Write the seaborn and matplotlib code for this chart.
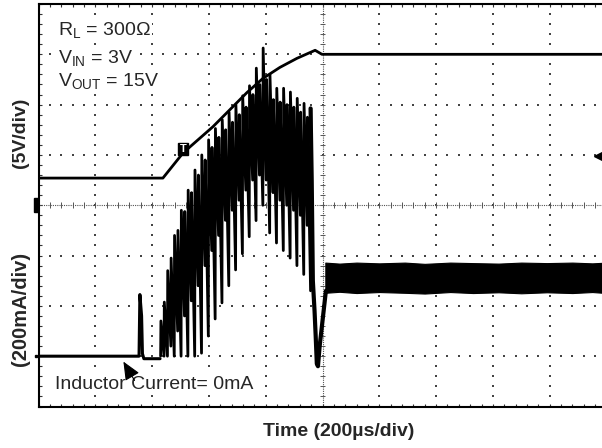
import numpy as np
import seaborn as sns
import matplotlib.pyplot as plt
from matplotlib.patches import Rectangle

# scope settings: 200us/div, ch1 5V/div (ground at centre), ch2 200mA/div (ground 3 div down)
V_PER_DIV = 5.0
MA_PER_DIV = 200.0
I_GROUND_DIV = -3.0

# channel 1 - output voltage (us, V)
volt_t = [0, 438, 509, 614, 674, 734, 790, 850, 910, 974, 998, 2000]
volt_v = [2.7, 2.7, 5.2, 7.8, 9.5, 11.2, 12.6, 13.7, 14.6, 15.4, 15.0, 15.0]

# channel 2 - inductor current before switching starts (us, mA)
pre_t = [0, 354, 357, 363, 366, 371, 428]
pre_i = [0, 0, 245, 160, 10, -10, -10]

# switching burst: one entry per visible spike (us, mA)
spike_t = [430, 442, 454, 466, 478, 490, 502, 514, 526, 538, 550, 562, 574, 586, 598,
           610, 622, 634, 646, 658, 670, 682, 694, 706, 718, 730, 742, 754, 766, 778,
           790, 802, 814, 826, 838, 850, 862, 874, 886, 898, 910, 922, 934, 946, 958]
spike_peak = [140, 215, 340, 390, 480, 500, 580, 575, 660, 650, 740, 720, 800, 780, 860,
              830, 905, 870, 940, 900, 970, 930, 1000, 960, 1035, 990, 1075, 1040, 1145, 1080,
              1225, 1100, 1120, 1020, 1065, 1010, 1065, 1000, 1050, 990, 1025, 970, 1005, 950, 985]
spike_valley = [0, 0, 0, 40, 0, 100, 0, 160, 0, 220, 0, 280, 12, 360, 80,
                420, 148, 480, 212, 540, 280, 580, 343, 620, 407, 660, 475, 700, 539, 720,
                600, 700, 490, 650, 450, 620, 420, 600, 390, 580, 360, 560, 325, 520, 260]

# undershoot after the burst (us, mA)
post_t = [962, 966, 972, 976, 980, 984, 990, 996, 1004, 1012]
post_i = [700, 300, 180, 80, -30, -40, 40, 100, 180, 260]

# steady-state ripple band (us, mA)
band_t = [1010, 1060, 1120, 1200, 1290, 1360, 1450, 1530, 1620, 1700, 1790, 1880, 1950, 2000]
band_top = [372, 368, 372, 369, 372, 367, 372, 370, 368, 372, 370, 372, 369, 372]
band_bot = [252, 256, 251, 255, 252, 249, 255, 251, 254, 250, 254, 251, 255, 251]

sns.set_style("white")
plt.rcParams['font.family'] = ['Liberation Sans', 'DejaVu Sans']
plt.rcParams['mathtext.fontset'] = 'custom'
plt.rcParams['mathtext.rm'] = 'Liberation Sans'

fig = plt.figure(figsize=(6.02, 4.48), dpi=100)
ax = fig.add_axes([38.5 / 602, 1 - 406.5 / 448, 568 / 602, 402.5 / 448])
ax.set_xlim(0, 2000)
ax.set_ylim(-4, 4)


def to_div_i(vals):
    return [v / MA_PER_DIV + I_GROUND_DIV for v in vals]


# graticule
dot_kw = dict(s=1.5, color='#444444', marker='s', linewidths=0, zorder=1)
xs_minor = np.arange(0, 2001, 40)
ys_minor = np.arange(-4, 4.01, 0.2)
for yy in [-3, -2, -1, 1, 2, 3]:
    ax.scatter(xs_minor, [yy] * len(xs_minor), **dot_kw)
for xx in [200, 400, 600, 800, 1200, 1400, 1600, 1800]:
    ax.scatter([xx] * len(ys_minor), ys_minor, **dot_kw)
ax.axhline(0, ls=(0, (1, 1)), lw=0.8, color='#555555', zorder=1)
ax.axvline(1000, ls=(0, (1, 1)), lw=0.8, color='#555555', zorder=1)
ax.vlines(xs_minor, -0.06, 0.06, color='#555555', lw=0.7, zorder=1)
ax.hlines(ys_minor, 990, 1010, color='#555555', lw=0.7, zorder=1)

ax.set_xticks(np.arange(0, 2001, 200))
ax.set_xticks(xs_minor, minor=True)
ax.set_yticks(np.arange(-4, 5, 1))
ax.set_yticks(ys_minor, minor=True)
ax.tick_params(which='both', direction='in', length=2.5, width=0.8, color='#333333',
               top=True, bottom=True, left=True, right=False,
               labelbottom=False, labelleft=False)
for side in ['left', 'top', 'bottom']:
    ax.spines[side].set_linewidth(1.5)
    ax.spines[side].set_color('black')
ax.spines['right'].set_visible(False)

# voltage trace
sns.lineplot(x=volt_t, y=[v / V_PER_DIV for v in volt_v], ax=ax, color='black',
             lw=2, sort=False, estimator=None, zorder=4)

# inductor current
sns.lineplot(x=pre_t, y=to_div_i(pre_i), ax=ax, color='black', lw=2.2,
             sort=False, estimator=None, zorder=3)
burst_t, burst_i = [], []
for t, lo, hi in zip(spike_t, spike_valley, spike_peak):
    burst_t += [t, t + 1]
    burst_i += [lo, hi]
sns.lineplot(x=burst_t, y=to_div_i(burst_i), ax=ax, color='black', lw=2.0,
             sort=False, estimator=None, zorder=3)
sns.lineplot(x=[958] + post_t, y=to_div_i([985] + post_i), ax=ax, color='black', lw=3,
             sort=False, estimator=None, zorder=3)
ax.fill_between(band_t, to_div_i(band_bot), to_div_i(band_top), color='black', lw=0.8,
                edgecolor='black', zorder=3)

# scope markers
ax.add_patch(Rectangle((-16, -0.14), 14, 0.28, color='black', clip_on=False, zorder=5))
ax.plot([-8], [I_GROUND_DIV], marker='s', ms=2, color='black', clip_on=False)
ax.plot([1972], [0.98], marker='<', ms=7, color='black', clip_on=False, zorder=5)
ax.text(509, 1.12, 'T', ha='center', va='center', color='white', fontsize=8,
        fontweight='bold', zorder=6,
        bbox=dict(boxstyle='square,pad=0.12', fc='black', ec='black'))

# annotations
box = dict(boxstyle='square,pad=0.05', fc='white', ec='none')
ax.text(69, 3.365, r'R$_{\mathrm{L}}$ = 300Ω', fontsize=14, va='baseline', bbox=box, zorder=5)
ax.text(69, 2.81, r'V$_{\mathrm{IN}}$ = 3V', fontsize=14, va='baseline', bbox=box, zorder=5)
ax.text(69, 2.35, r'V$_{\mathrm{OUT}}$ = 15V', fontsize=14, va='baseline', bbox=box, zorder=5)
ax.text(58, -3.65, 'Inductor Current= 0mA', fontsize=14, va='baseline', bbox=box, zorder=5)
ax.annotate('', xy=(294, -3.06), xytext=(343, -3.53), zorder=6,
            arrowprops=dict(arrowstyle='-|>,head_length=0.8,head_width=0.35',
                            mutation_scale=14, color='black', lw=0.8))

fig.text(21 / 602, 1 - 132.5 / 448, '(5V/div)', rotation=90, ha='center', va='center',
         fontsize=14, fontweight='bold')
fig.text(21 / 602, 1 - 308.5 / 448, '(200mA/div)', rotation=90, ha='center', va='center',
         fontsize=14.5, fontweight='bold')
fig.text(339 / 602, 1 - 431.5 / 448, 'Time (200µs/div)', ha='center', va='center',
         fontsize=14, fontweight='bold')

fig.savefig('out.png', dpi=100)
